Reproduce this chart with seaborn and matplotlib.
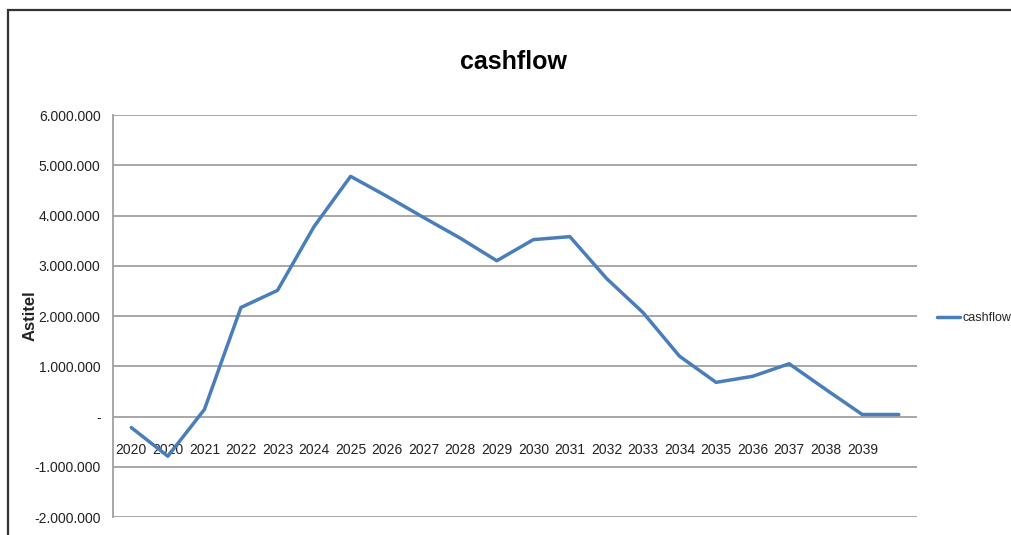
import matplotlib
matplotlib.use("Agg")
import matplotlib.pyplot as plt
import matplotlib.ticker as mticker
from matplotlib.patches import Rectangle
import pandas as pd
import seaborn as sns

# ---------------------------------------------------------------------------
# Dati
# ---------------------------------------------------------------------------

anni = ["2020", "2020", "2021", "2022", "2023", "2024", "2025", "2026",
        "2027", "2028", "2029", "2030", "2031", "2032", "2033", "2034",
        "2035", "2036", "2037", "2038", "2039", ""]
cashflow = [-220000, -790000, 140000, 2170000, 2510000, 3780000, 4780000,
            4380000, 3960000, 3550000, 3100000, 3520000, 3580000, 2750000,
            2070000, 1200000, 680000, 800000, 1050000, 540000, 40000, 40000]
y_ticks = [-2000000, -1000000, 0, 1000000, 2000000, 3000000, 4000000,
           5000000, 6000000]

# ---------------------------------------------------------------------------
# Configurazione
# ---------------------------------------------------------------------------

sns.set_style("white")
plt.rcParams["font.family"] = ["Liberation Sans", "DejaVu Sans"]

BLU = "#4A7EBB"
GRIGIO = "#A0A0A0"
TESTO = "#222222"

df = pd.DataFrame({"pos": range(len(cashflow)), "cashflow": cashflow})

fig = plt.figure(figsize=(10.11, 5.35), dpi=100)
ax = fig.add_axes([0.1118, 0.0336, 0.7953, 0.7514])

sns.lineplot(data=df, x="pos", y="cashflow", color=BLU, linewidth=2.5,
             ax=ax, label="cashflow")

ax.set_xlim(-0.5, len(cashflow) - 0.5)
ax.set_ylim(y_ticks[0], y_ticks[-1])

# griglia orizzontale stile Excel
ax.set_yticks(y_ticks)
ax.yaxis.grid(True, color=GRIGIO, linewidth=1.3)
ax.xaxis.grid(False)


def formato_it(v, pos):
    if v == 0:
        return "-"
    return f"{v:,.0f}".replace(",", ".")


ax.yaxis.set_major_formatter(mticker.FuncFormatter(formato_it))
ax.tick_params(axis="y", length=0, pad=9, labelsize=10, colors=TESTO)

# asse x sulla linea dello zero
ax.spines["bottom"].set_position(("data", 0))
ax.spines["bottom"].set_visible(False)
ax.set_xticks(df["pos"])
ax.set_xticklabels(anni)
ax.tick_params(axis="x", length=0, pad=19, labelsize=10, colors=TESTO)

for lato in ["top", "right"]:
    ax.spines[lato].set_visible(False)
ax.spines["left"].set_color(GRIGIO)
ax.spines["left"].set_linewidth(1.3)

ax.set_xlabel("")
ax.set_ylabel("Astitel", fontweight="bold", fontsize=12, color=TESTO)
ax.yaxis.set_label_coords(-0.094, 0.502)

fig.text(0.508, 0.885, "cashflow", ha="center", va="center",
         fontsize=18, fontweight="bold", color="black")

ax.legend(loc="center left", bbox_to_anchor=(1.025, 0.495), frameon=False,
          fontsize=9, handlelength=1.8, handletextpad=0.2,
          borderaxespad=0, borderpad=0)

# cornice del grafico
fig.add_artist(Rectangle((0.008, -0.1), 1.2, 1.081, transform=fig.transFigure,
                         fill=False, edgecolor="#333333", linewidth=1.6,
                         clip_on=False))

fig.savefig("out.png", dpi=100)
